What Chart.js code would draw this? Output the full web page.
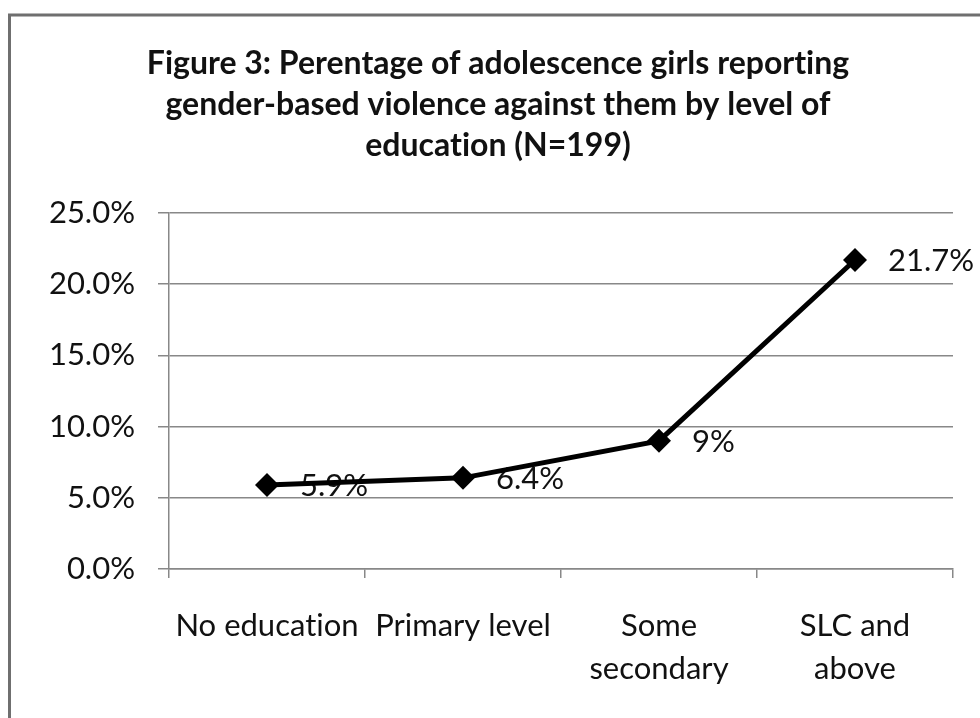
<!DOCTYPE html>
<html>
<head>
<meta charset="utf-8">
<title>Gender-based violence by level of education</title>
<script src="https://cdn.jsdelivr.net/npm/chart.js@4.4.1/dist/chart.umd.min.js"></script>
<style>
  html, body { margin: 0; padding: 0; background: #fff; overflow: hidden; }
  #wrap { position: relative; width: 980px; height: 718px; }
</style>
</head>
<body>
<div id="wrap"><canvas id="chart" width="980" height="718"></canvas></div>
<script>
// Education levels (multi-line labels as arrays)
const categories = [
  ['No education'],
  ['Primary level'],
  ['Some', 'secondary'],
  ['SLC and', 'above']
];
// Share of girls reporting gender-based violence, in percent
const reportedPct = [5.9, 6.4, 9, 21.7];
// Value axis ticks
const yTickValues = [0, 5, 10, 15, 20, 25];
const yTickLabels = ['0.0%', '5.0%', '10.0%', '15.0%', '20.0%', '25.0%'];

const titleLines = [
  'Figure 3: Perentage of adolescence girls reporting',
  'gender-based violence against them by level of',
  'education (N=199)'
];

const FONT = 'Lato, "Open Sans", "Liberation Sans", sans-serif';
const GRID = '#888888';

// White page plus the grey frame around the figure
const framePlugin = {
  id: 'frame',
  beforeDraw(chart) {
    const ctx = chart.ctx;
    // plain glyphs, no "ti" ligatures
    ctx.textRendering = 'optimizeSpeed';
    ctx.save();
    ctx.fillStyle = '#ffffff';
    ctx.fillRect(0, 0, chart.width, chart.height);
    ctx.strokeStyle = '#6f6f6f';
    ctx.lineWidth = 3;
    ctx.strokeRect(9.5, 15, chart.width + 40, chart.height + 40);
    ctx.restore();
  }
};

// Value labels to the right of each marker, drawn under the line
const valueLabels = {
  id: 'valueLabels',
  beforeDatasetsDraw(chart) {
    const ctx = chart.ctx;
    const meta = chart.getDatasetMeta(0);
    const values = chart.data.datasets[0].data;
    ctx.save();
    ctx.font = '31px ' + FONT;
    ctx.fillStyle = '#111111';
    ctx.textAlign = 'left';
    ctx.textBaseline = 'middle';
    meta.data.forEach((pt, i) => {
      ctx.fillText(String(values[i]) + '%', pt.x + 33, pt.y + 1);
    });
    ctx.restore();
  }
};

new Chart(document.getElementById('chart'), {
  type: 'line',
  data: {
    labels: categories,
    datasets: [{
      data: reportedPct,
      borderColor: '#000000',
      backgroundColor: '#000000',
      borderWidth: 5,
      tension: 0,
      pointStyle: 'rectRot',
      pointRadius: 12,
      pointHoverRadius: 12,
      pointBackgroundColor: '#000000',
      pointBorderColor: '#000000',
      pointBorderWidth: 0
    }]
  },
  options: {
    responsive: false,
    animation: false,
    events: [],
    layout: { padding: { left: 43, right: 27, top: 0, bottom: 0 } },
    plugins: {
      legend: { display: false },
      tooltip: { enabled: false },
      title: {
        display: true,
        text: titleLines,
        color: '#111111',
        font: { family: FONT, size: 32, weight: 'bold', lineHeight: '41px' },
        padding: { top: 43, bottom: 47 }
      }
    },
    scales: {
      x: {
        type: 'category',
        offset: true,
        afterFit(scale) { scale.height = 149; },
        grid: {
          offset: true,
          drawOnChartArea: false,
          drawTicks: true,
          tickLength: 9,
          color: GRID,
          lineWidth: 1.5
        },
        border: { display: true, color: GRID, width: 1.5 },
        ticks: {
          color: '#111111',
          padding: 26,
          maxRotation: 0,
          autoSkip: false,
          font: { family: FONT, size: 31, lineHeight: '43px' }
        }
      },
      y: {
        min: 0,
        max: 25,
        afterFit(scale) { scale.width = 126; },
        afterBuildTicks(scale) {
          scale.ticks = yTickValues.map(v => ({ value: v }));
        },
        grid: {
          color: GRID,
          lineWidth: 1.5,
          drawTicks: true,
          tickLength: 11
        },
        border: { display: true, color: GRID, width: 1.5 },
        ticks: {
          color: '#111111',
          padding: 23,
          font: { family: FONT, size: 31 },
          callback(value) {
            const i = yTickValues.indexOf(value);
            return i >= 0 ? yTickLabels[i] : '';
          }
        }
      }
    }
  },
  plugins: [framePlugin, valueLabels]
});
</script>
</body>
</html>
